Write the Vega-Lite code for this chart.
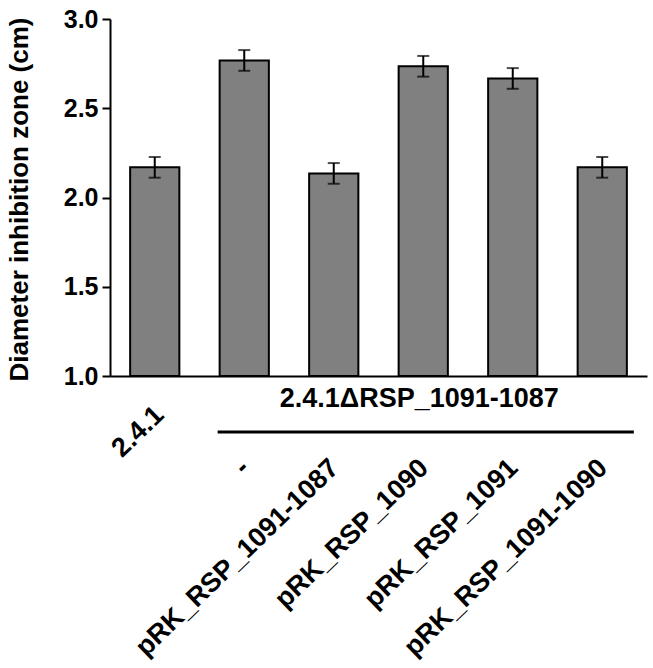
{
  "$schema": "https://vega.github.io/schema/vega-lite/v6.json",
  "width": 537,
  "height": 357,
  "autosize": "none",
  "padding": {"left": 110, "top": 19, "right": 6, "bottom": 292},
  "background": "white",
  "config": {
    "font": "Liberation Sans",
    "view": {"stroke": null},
    "axis": {"domainColor": "black", "domainWidth": 2, "tickColor": "black", "tickWidth": 2, "grid": false, "labelColor": "black", "titleColor": "black"}
  },
  "datasets": {
    "bars": [
      {"label": "2.4.1", "value": 2.169, "err": 0.058},
      {"label": "-", "value": 2.768, "err": 0.058},
      {"label": "pRK_RSP_1091-1087", "value": 2.135, "err": 0.058},
      {"label": "pRK_RSP_1090", "value": 2.735, "err": 0.058},
      {"label": "pRK_RSP_1091", "value": 2.667, "err": 0.058},
      {"label": "pRK_RSP_1091-1090", "value": 2.169, "err": 0.058}
    ],
    "group": [
      {"group": "2.4.1ΔRSP_1091-1087"}
    ]
  },
  "layer": [
    {
      "data": {"name": "bars"},
      "mark": {"type": "bar", "fill": "#808080", "stroke": "black", "strokeWidth": 2},
      "encoding": {
        "x": {"field": "label", "type": "nominal", "sort": null,
              "scale": {"paddingInner": 0.45, "paddingOuter": 0.225},
              "axis": {"labels": false, "ticks": false, "title": null}},
        "y": {"field": "value", "type": "quantitative",
              "scale": {"domain": [1, 3], "zero": false, "nice": false},
              "axis": {"values": [1, 1.5, 2, 2.5, 3], "format": ".1f", "labelFontSize": 25, "labelFontWeight": "bold",
                       "tickSize": 8, "labelPadding": 4,
                       "title": "Diameter inhibition zone (cm)", "titleFontSize": 26, "titleFontWeight": "bold",
                       "titleX": -78, "titleY": 180, "titleBaseline": "bottom", "titleAngle": -90}},
        "y2": {"datum": 1}
      }
    },
    {
      "data": {"name": "bars"},
      "mark": {"type": "errorbar", "ticks": {"size": 12, "thickness": 2, "color": "black"}, "rule": {"strokeWidth": 2, "color": "black"}},
      "encoding": {
        "x": {"field": "label", "type": "nominal", "sort": null},
        "y": {"field": "value", "type": "quantitative", "title": "Diameter inhibition zone (cm)"},
        "yError": {"field": "err"}
      }
    },
    {
      "data": {"name": "bars"},
      "transform": [{"filter": "datum.label !== '2.4.1'"}],
      "mark": {"type": "text", "angle": -44, "align": "right", "baseline": "middle", "fontSize": 27, "fontWeight": "bold", "color": "black", "xOffset": 1, "yOffset": 88},
      "encoding": {
        "x": {"field": "label", "type": "nominal", "sort": null},
        "y": {"datum": 1},
        "text": {"field": "label"}
      }
    },
    {
      "data": {"name": "bars"},
      "transform": [{"filter": "datum.label === '2.4.1'"}],
      "mark": {"type": "text", "angle": -44, "align": "right", "baseline": "middle", "fontSize": 27, "fontWeight": "bold", "color": "black", "xOffset": 5, "yOffset": 35},
      "encoding": {
        "x": {"field": "label", "type": "nominal", "sort": null},
        "y": {"datum": 1},
        "text": {"field": "label"}
      }
    },
    {
      "data": {"name": "group"},
      "mark": {"type": "text", "align": "center", "baseline": "middle", "fontSize": 27, "fontWeight": "bold", "color": "black", "xOffset": -4, "yOffset": 23},
      "encoding": {
        "x": {"datum": "pRK_RSP_1090"},
        "y": {"datum": 1},
        "text": {"field": "group"}
      }
    },
    {
      "data": {"name": "group"},
      "mark": {"type": "rule", "color": "black", "strokeWidth": 3, "xOffset": -2, "x2Offset": 7, "yOffset": 56},
      "encoding": {
        "x": {"datum": "-", "bandPosition": 0},
        "x2": {"datum": "pRK_RSP_1091-1090", "bandPosition": 1},
        "y": {"datum": 1}
      }
    }
  ]
}
